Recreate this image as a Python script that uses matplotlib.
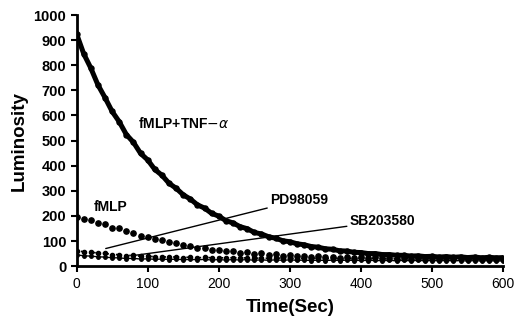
import numpy as np
import matplotlib
matplotlib.use("Agg")
import matplotlib.pyplot as plt

plt.rcParams['font.family'] = ['Liberation Sans', 'DejaVu Sans']

# time points every 10 s
time = list(range(0, 610, 10))

fmlp_tnf = [925, 846, 789, 722, 671, 616, 575, 524, 493, 449, 423, 385, 362, 330,
            310, 284, 267, 244, 231, 210, 199, 181, 172, 157, 149, 134, 128, 117,
            111, 101, 97, 89, 85, 78, 75, 69, 67, 61, 60, 55, 54, 50, 50, 46, 46,
            43, 43, 40, 41, 38, 39, 36, 38, 35, 37, 34, 36, 33, 35, 33, 34]
fmlp = [197, 186, 182, 170, 167, 153, 150, 138, 132, 120, 117, 108, 106, 96, 92,
        83, 82, 74, 74, 66, 66, 59, 60, 53, 55, 49, 51, 45, 47, 42, 44, 39, 42,
        37, 40, 35, 38, 34, 37, 33, 36, 32, 35, 31, 34, 30, 33, 30, 33, 29, 32,
        29, 32, 28, 31, 28, 31, 28, 30, 28, 30]
pd98059 = [62, 57, 57, 51, 51, 46, 46, 42, 43, 39, 40, 37, 38, 35, 37, 34, 36, 33,
           35, 33, 34, 32, 34, 32, 33, 31, 33, 31, 33, 31, 32, 30, 32, 30, 32, 30,
           31, 30, 31, 29, 31, 29, 31, 29, 30, 29, 30, 29, 30, 28, 30, 28, 30, 28,
           29, 28, 29, 28, 29, 28, 29]
sb203580 = [45, 41, 40, 37, 36, 33, 33, 30, 31, 28, 29, 27, 28, 26, 28, 25, 27, 25,
            27, 24, 26, 24, 26, 24, 26, 23, 25, 23, 25, 23, 25, 23, 24, 22, 24, 22,
            24, 22, 24, 22, 23, 22, 23, 21, 23, 21, 23, 21, 23, 21, 22, 21, 22, 21,
            22, 20, 22, 20, 22, 20, 21]

fig = plt.figure(figsize=(5.14, 3.21), dpi=100)
ax = fig.add_axes([0.149, 0.171, 0.830, 0.782])

ax.plot(time, sb203580, 'o', color='black', ms=2.5, ls='-', lw=1.0)
ax.plot(time, pd98059, 'o', color='black', ms=3, ls=':', lw=1.2)
ax.plot(time, fmlp, 'o', color='black', ms=3.8, ls='none')
ax.plot(time, fmlp_tnf, 'o', color='black', ms=3.6, ls='-', lw=3.6)

ax.set_xlim(0, 600)
ax.set_ylim(0, 1000)
ax.set_xticks(range(0, 601, 100))
ax.set_yticks(range(0, 1001, 100))
for s in ['top', 'right']:
    ax.spines[s].set_visible(False)
for s in ['left', 'bottom']:
    ax.spines[s].set_linewidth(2)
ax.tick_params(axis='both', width=1.5, length=4, direction='out')
ax.tick_params(axis='x', labelsize=10)
ax.tick_params(axis='y', labelsize=10.5)
for lab in ax.get_yticklabels():
    lab.set_fontweight('bold')

ax.set_xlabel('Time(Sec)', fontsize=13.5, fontweight='bold', labelpad=6)
ax.set_ylabel('Luminosity', fontsize=13.5, fontweight='bold', labelpad=4)

ax.text(86, 570, r'fMLP+TNF$-\alpha$', fontsize=10, fontweight='bold', va='center')
ax.text(24, 235, 'fMLP', fontsize=10, fontweight='bold', va='center')
ax.annotate('PD98059', xy=(41, 70), xytext=(272, 263), fontsize=10,
            fontweight='bold', va='center',
            arrowprops=dict(arrowstyle='-', color='black', lw=1, shrinkA=0, shrinkB=0))
ax.annotate('SB203580', xy=(77, 41), xytext=(384, 178), fontsize=10,
            fontweight='bold', va='center',
            arrowprops=dict(arrowstyle='-', color='black', lw=1, shrinkA=0, shrinkB=0))

fig.savefig('out.png', dpi=100)
